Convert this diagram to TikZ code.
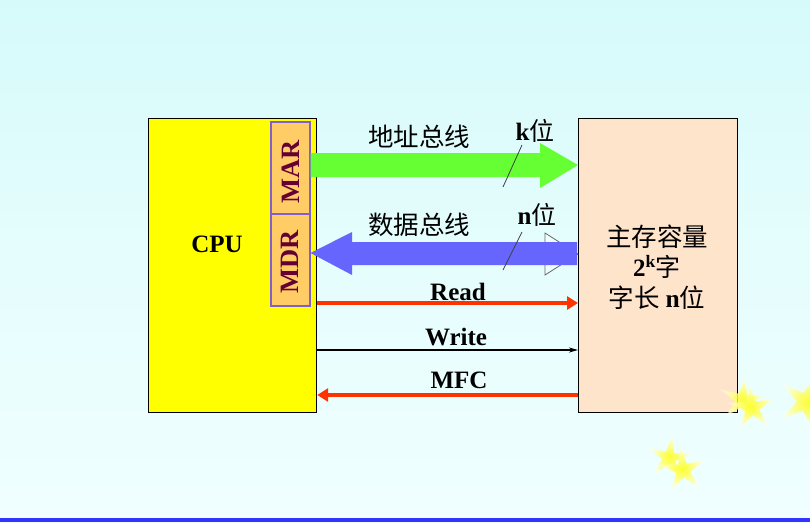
\documentclass[tikz,border=0pt]{standalone}
\usepackage{fontspec}
\setmainfont{Liberation Serif}
\newfontfamily\cjk{Noto Sans CJK SC}
\usetikzlibrary{shapes.geometric,arrows.meta}
\definecolor{bgtop}{RGB}{214,250,250}
\definecolor{bgbot}{RGB}{240,255,255}
\definecolor{cpuyellow}{RGB}{255,255,0}
\definecolor{regfill}{RGB}{255,204,102}
\definecolor{regedge}{RGB}{128,96,204}
\definecolor{regtext}{RGB}{102,0,51}
\definecolor{memfill}{RGB}{255,228,204}
\definecolor{addrgreen}{RGB}{102,255,51}
\definecolor{datablue}{RGB}{102,102,255}
\definecolor{ctrlred}{RGB}{255,51,0}
\definecolor{baseblue}{RGB}{51,51,255}
\tikzset{
  unitbox/.style={draw=black, line width=1.2pt, inner sep=0pt, anchor=north west},
  regbox/.style={draw=regedge, fill=regfill, line width=1.5pt, inner sep=0pt,
    anchor=north west, minimum width=39pt, minimum height=92pt},
  regtxt/.style={rotate=90, text=regtext, font=\fontsize{26.5}{28}\selectfont\bfseries},
  bold/.style={font=\fontsize{25}{27}\selectfont\bfseries},
  zh/.style={font=\fontsize{25.5}{28}\selectfont},
  ctrl/.style={draw=ctrlred, line width=4pt, -{Triangle[length=11pt,width=13pt]}},
  slash/.style={draw=black!75, line width=0.8pt},
  glow/.style={star, star points=5, star point ratio=3.2, inner sep=0pt,
    minimum size=#1, shading=radial, inner color=yellow!80,
    outer color=yellow!5, opacity=0.45},
  sparkle/.style={star, star points=5, star point ratio=3.0, inner sep=0pt,
    minimum size=#1, shading=radial, inner color=yellow,
    outer color=yellow!20, opacity=0.7}
}
\begin{document}
\begin{tikzpicture}[x=1pt, y=-1pt]
  % background
  \shade[top color=bgtop, bottom color=bgbot, middle color=bgbot!60!bgtop]
    (0,0) rectangle (810,522);
  \useasboundingbox (0,0) rectangle (810,522);
  \fill[baseblue] (0,518) rectangle (810,522);

  % CPU and memory
  \node[unitbox, fill=cpuyellow, minimum width=168pt, minimum height=294pt] (cpu) at (148,118) {};
  \node[bold] (cpulbl) at (217,244) {CPU};
  \node[regbox] (mar) at (270,121) {};
  \node[regbox] (mdr) at (270,213) {};
  \node[regtxt] (marlbl) at ([yshift=-4pt]mar.center) {MAR};
  \node[regtxt] (mdrlbl) at ([yshift=-2pt]mdr.center) {MDR};

  \node[unitbox, fill=memfill, minimum width=159pt, minimum height=294pt] (mem) at (578,118) {};
  \node[zh, align=center] (memcap) at (657,237) {\cjk 主存容量};
  \node[bold] (memwords) at (657,267) {2\textsuperscript{k}{\mdseries\cjk 字}};
  \node[zh] (memwidth) at (657,298) {{\cjk 字长 }\textbf{n}{\cjk 位}};

  % address bus
  \fill[addrgreen] (mar.east |- 0,153) -- (540,153) -- (540,143) -- (mem.west |- 0,165)
    -- (540,188) -- (540,177) -- (mar.east |- 0,177) -- cycle;
  \draw[slash] (503,187) -- (522,145);
  \node[zh] (abus) at (419,137) {\cjk 地址总线};
  \node[bold] (kbits) at (535,131) {k{\mdseries\cjk 位}};

  % data bus
  \draw[black!60, line width=0.8pt, fill=bgbot] (545,233) -- (mem.west |- 0,254) -- (545,275) -- cycle;
  \fill[datablue] (mdr.east |- 0,253) -- (352,232) -- (352,242) -- (577,242)
    -- (577,265) -- (352,265) -- (352,275) -- cycle;
  \draw[slash] (503,270) -- (522,232);
  \node[zh] (dbus) at (419,225) {\cjk 数据总线};
  \node[bold] (nbits) at (537,215) {n{\mdseries\cjk 位}};

  % control lines
  \draw[ctrl] (cpu.east |- 0,303) -- (mem.west |- 0,303);
  \node[bold] (rdlbl) at (458,292) {Read};
  \draw[black, line width=1.4pt, -{Stealth[length=9pt,width=5pt]}] (cpu.east |- 0,350) -- (mem.west |- 0,350);
  \node[bold] (wrlbl) at (456,337) {Write};
  \draw[ctrl] (mem.west |- 0,395) -- (cpu.east |- 0,395);
  \node[bold] (mfclbl) at (459,380) {MFC};

  % decorative stars
  \foreach \n/\x/\y/\s/\r in {s1/742/400/40/-8, s2/752/408/42/6, s3/806/402/54/-20,
                              s4/669/458/40/-8, s5/683/470/42/6} {
    \node[glow=\s pt+8pt, rotate=\r] (\n g) at (\x,\y) {};
    \node[sparkle=\s pt, rotate=\r] (\n) at (\x,\y) {};
  }
\end{tikzpicture}
\end{document}
